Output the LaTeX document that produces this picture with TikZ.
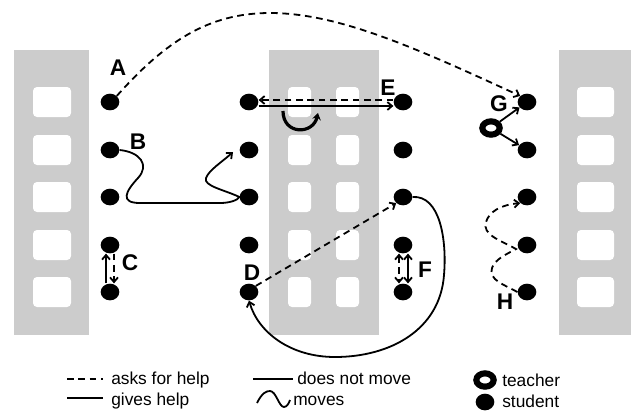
\documentclass[tikz,border=0pt]{standalone}
\usepackage{fontspec}
\setmainfont{Liberation Sans}
\usetikzlibrary{arrows.meta,shapes.geometric,calc}
\definecolor{panelgray}{RGB}{204,204,204}
\begin{document}
\begin{tikzpicture}[x=0.75pt,y=-0.75pt,
  student/.style={ellipse,fill=black,minimum width=14pt,minimum height=12.5pt,inner sep=0pt},
  teacher/.style={ellipse,draw=black,fill=white,line width=4.6pt,minimum width=13pt,minimum height=10pt,inner sep=0pt},
  lbl/.style={font=\bfseries\fontsize{17}{17}\selectfont,inner sep=0pt},
  legend/.style={font=\fontsize{13}{13}\selectfont,anchor=base west,inner sep=0pt},
  ask/.style={line width=1.35pt,dash pattern=on 5pt off 3.5pt},
  give/.style={line width=1.35pt},
  tip/.style={-{Straight Barb[length=3.5pt,width=6pt]}},
  tips/.style={{Straight Barb[length=3.5pt,width=6pt]}-{Straight Barb[length=3.5pt,width=6pt]}},
  panel/.style={fill=panelgray},
  window/.style={fill=white,rounded corners=3pt}
]
\useasboundingbox (0,0) rectangle (631,415);

% desk rows with their window panes
\fill[panel] (14,50) rectangle (89,335);
\fill[panel] (269,50) rectangle (379,335);
\fill[panel] (559,50) rectangle (631,335);
\foreach \y in {102,150,197,245,292} {
  \fill[window] (33,\y-15) rectangle (71,\y+15);
  \fill[window] (288,\y-15) rectangle (311,\y+15);
  \fill[window] (336,\y-15) rectangle (359,\y+15);
  \fill[window] (577,\y-15) rectangle (614,\y+15);
}

% students
\foreach \y [count=\i] in {102,150,197,245,292} {
  \node[student] (L\i) at (110,\y) {};
  \node[student] (M\i) at (249,\y) {};
  \node[student] (N\i) at (403,\y) {};
  \node[student] (R\i) at (527,\y) {};
}
% teacher
\node[teacher] (T) at (491,128) {};

% labels
\node[lbl] (labA) at (118,68) {A};
\node[lbl] (labB) at (138,142) {B};
\node[lbl] (labC) at (130,263) {C};
\node[lbl] (labD) at (252,273) {D};
\node[lbl] (labE) at (388,88) {E};
\node[lbl] (labF) at (425,270) {F};
\node[lbl] (labG) at (499,104) {G};
\node[lbl] (labH) at (505,302) {H};

% A asks G for help
\draw[ask,tip] (L1.north east) .. controls (165,42) and (208,13) .. (270,13)
  .. controls (340,13) and (420,50) .. (R1.north west);

% B moves to help
\draw[give,tip] (L2.east) .. controls (140,152) and (150,165) .. (138,178)
  .. controls (125,192) and (120,203) .. (140,203) -- (220,203)
  .. controls (230,203) and (238,200) .. (M3.west)
  .. controls (225,190) and (203,186) .. (206,178)
  .. controls (209,170) and (222,162) .. (233,152);

% C
\draw[give,tip] ($(L5.north)+(-4,0)$) -- ($(L4.south)+(-4,0)$);
\draw[ask,tip] ($(L4.south)+(4,0)$) -- ($(L5.north)+(4,0)$);

% D
\draw[ask,tip] (M5.north east) -- (N3.south west);
\draw[give,tip] (N3.east) .. controls (440,195) and (447,240) .. (444,275)
  .. controls (440,330) and (390,357) .. (335,357)
  .. controls (290,357) and (258,332) .. (M5.south);

% E
\draw[ask,tip] ($(N1.west)+(0,-2)$) -- ($(M1.east)+(0,-2)$);
\draw[give,tip] ($(M1.east)+(0,4)$) -- ($(N1.west)+(0,4)$);
\coordinate (turnA) at (283,111);
\coordinate (turnB) at (318,113);
\draw[line width=2.4pt,-{Stealth[length=5pt,width=6.5pt]}] (turnA)
  .. controls (283,135) and (313,135) .. (turnB);

% F
\draw[ask,tips] ($(N4.south)+(-4,0)$) -- ($(N5.north)+(-4,0)$);
\draw[give,tips] ($(N4.south)+(5,0)$) -- ($(N5.north)+(5,0)$);

% G: the teacher helps
\draw[give,tip] (T) -- (R1);
\draw[give,tip] (T) -- (R2);

% H moves while asking
\draw[ask,tip] (R5.west) .. controls (505,285) and (488,280) .. (492,268)
  .. controls (495,259) and (507,254) .. (516,249)
  .. controls (500,240) and (482,235) .. (486,222)
  .. controls (489,212) and (500,205) .. (R3.south west);

% legend
\draw[ask] (67,379) -- (103,379);
\node[legend] (l1) at (111,384) {asks for help};
\draw[give] (67,398) -- (103,398);
\node[legend] (l2) at (111,405) {gives help};
\draw[give] (253,379) -- (293,379);
\node[legend] (l3) at (297,384) {does not move};
\draw[give] (257,403) .. controls (262,393) and (266,391) .. (270,391)
  .. controls (276,391) and (279,407) .. (284,407)
  .. controls (287,407) and (289,403) .. (290,400);
\node[legend] (l4) at (293,405) {moves};
\node[teacher] (lt) at (485,380) {};
\node[legend] (l5) at (502,386) {teacher};
\node[student] (ls) at (485,402) {};
\node[legend] (l6) at (502,407) {student};
\end{tikzpicture}
\end{document}
